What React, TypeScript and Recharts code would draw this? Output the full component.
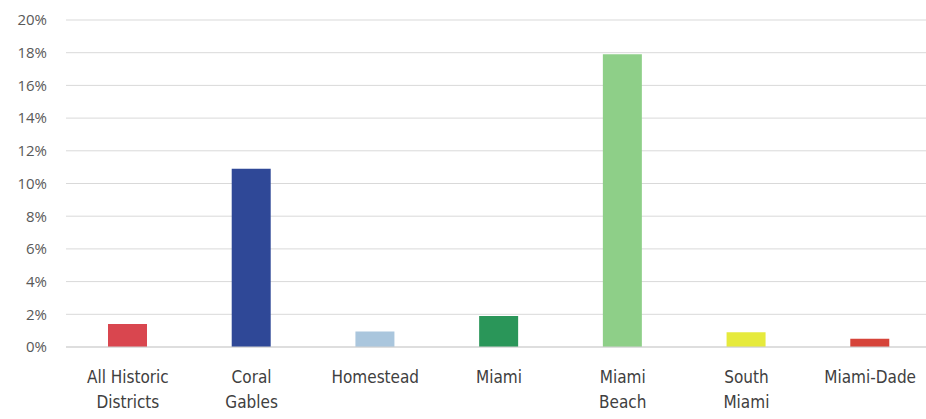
import { BarChart, Bar, XAxis, YAxis, CartesianGrid, Cell } from "recharts";

const districts = [
  "All Historic Districts",
  "Coral Gables",
  "Homestead",
  "Miami",
  "Miami Beach",
  "South Miami",
  "Miami-Dade",
];
const labelLines = [
  ["All Historic", "Districts"],
  ["Coral", "Gables"],
  ["Homestead"],
  ["Miami"],
  ["Miami", "Beach"],
  ["South", "Miami"],
  ["Miami-Dade"],
];
const shares = [1.4, 10.9, 0.95, 1.9, 17.9, 0.9, 0.5];
const barColors = ["#d9464f", "#2f4897", "#aac6dd", "#2a9659", "#8ecf88", "#e6ea3c", "#d6443a"];
const yTicks = [0, 2, 4, 6, 8, 10, 12, 14, 16, 18, 20];

const data = districts.map((name, i) => ({ name, value: shares[i], idx: i }));

function DistrictTick(props: any) {
  const { x, y, index } = props;
  const lines = labelLines[index] || [];
  return (
    <text
      x={x}
      y={y}
      textAnchor="middle"
      fill="#404040"
      fontSize={17}
      fontStretch="condensed"
      fontFamily="'DejaVu Sans Condensed', 'Liberation Sans Narrow', sans-serif"
    >
      {lines.map((l, i) => (
        <tspan key={i} x={x} dy={i === 0 ? 28 : 25}>
          {l}
        </tspan>
      ))}
    </text>
  );
}

export default function App() {
  return (
    <div
      style={{
        position: "absolute",
        left: 0,
        top: 0,
        width: 926,
        height: 419,
        overflow: "hidden",
        background: "#ffffff",
      }}
    >
      <BarChart
        width={932}
        height={419}
        data={data}
        margin={{ top: 20, right: 0, bottom: 12, left: 0 }}
      >
        <CartesianGrid vertical={false} stroke="#d9d9d9" />
        <XAxis
          dataKey="name"
          interval={0}
          height={60}
          axisLine={{ stroke: "#d0d0d0" }}
          tickLine={false}
          tick={<DistrictTick />}
        />
        <YAxis
          width={66}
          domain={[0, 20]}
          ticks={yTicks}
          interval={0}
          axisLine={false}
          tickLine={false}
          tickSize={0}
          tickMargin={19}
          tickFormatter={(v: number) => `${v}%`}
          tick={{ fill: "#595959", fontSize: 15, fontFamily: "'Open Sans', sans-serif" }}
        />
        <Bar dataKey="value" barSize={39} isAnimationActive={false}>
          {data.map((d, i) => (
            <Cell key={d.name} fill={barColors[i]} />
          ))}
        </Bar>
      </BarChart>
    </div>
  );
}
